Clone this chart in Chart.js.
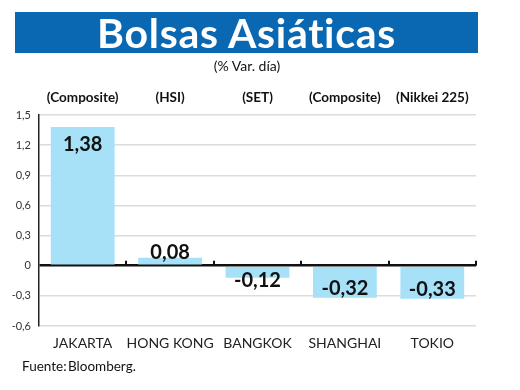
<!DOCTYPE html>
<html>
<head>
<meta charset="utf-8">
<script src="https://cdn.jsdelivr.net/npm/chart.js@4/dist/chart.umd.min.js"></script>
<style>
  body { margin: 0; background: #fff; }
  #wrap { position: relative; width: 520px; height: 390px; overflow: hidden; }
  #c { position: absolute; left: 0; top: 0; }
  .banner {
    position: absolute; left: 15px; top: 12px; width: 463px; height: 41px;
    background: #0a68b2; color: #fff; text-align: center;
    font: bold 41px Lato, sans-serif; line-height: 42px; letter-spacing: 0.7px;
  }
  .sub { position: absolute; left: 0; width: 494px; top: 57px; text-align: center; font: 14px Lato, sans-serif; color: #111; }
  .source { position: absolute; left: 22px; top: 358px; font: 13.5px Lato, sans-serif; color: #111; word-spacing: -2px; }
</style>
</head>
<body>
<div id="wrap">
  <canvas id="c" width="520" height="390"></canvas>
  <div class="banner">Bolsas Asiáticas</div>
  <div class="sub">(% Var. día)</div>
  <div class="source">Fuente: Bloomberg.</div>
</div>
<script>
// data
const markets = ['JAKARTA', 'HONG KONG', 'BANGKOK', 'SHANGHAI', 'TOKIO'];
const indexNames = ['(Composite)', '(HSI)', '(SET)', '(Composite)', '(Nikkei 225)'];
const dayChange = [1.38, 0.08, -0.12, -0.32, -0.33];
const yTickValues = [-0.6, -0.3, 0, 0.3, 0.6, 0.9, 1.2, 1.5];

const fmt = v => String(Math.round(v * 100) / 100).replace('.', ',');

// value labels over / inside the bars
const valueLabels = {
  id: 'valueLabels',
  afterDatasetsDraw(chart) {
    const ctx = chart.ctx;
    const meta = chart.getDatasetMeta(0);
    ctx.save();
    ctx.font = 'bold 20px Lato';
    ctx.fillStyle = '#111';
    ctx.textAlign = 'center';
    ctx.textBaseline = 'middle';
    meta.data.forEach((bar, i) => {
      const v = dayChange[i];
      const inside = Math.abs(v) > 0.25;
      let y;
      if (inside) y = bar.y + (v > 0 ? 17 : -9);
      else y = bar.y + (v > 0 ? -5 : 3);
      ctx.fillText(fmt(v), bar.x, y);
    });
    ctx.restore();
  }
};

// little tick marks on the zero line between categories
const zeroTicks = {
  id: 'zeroTicks',
  afterDraw(chart) {
    const x = chart.scales.x, y = chart.scales.y;
    const ctx = chart.ctx;
    const y0 = y.getPixelForValue(0);
    const step = x.getPixelForValue(1) - x.getPixelForValue(0);
    ctx.save();
    ctx.strokeStyle = '#111';
    ctx.lineWidth = 2;
    for (let i = 0; i < markets.length; i++) {
      const px = Math.round(x.getPixelForValue(i) + step / 2);
      ctx.beginPath();
      ctx.moveTo(px, y0);
      ctx.lineTo(px, y0 - 5);
      ctx.stroke();
    }
    ctx.restore();
  }
};

new Chart(document.getElementById('c'), {
  type: 'bar',
  data: {
    labels: markets,
    datasets: [{
      data: dayChange,
      backgroundColor: '#a6e1f8',
      borderWidth: 0,
      barPercentage: 0.73,
      categoryPercentage: 1
    }]
  },
  options: {
    responsive: false,
    animation: false,
    devicePixelRatio: 1,
    layout: { padding: { left: 0, right: 44, top: 0, bottom: 0 } },
    plugins: { legend: { display: false }, tooltip: { enabled: false } },
    scales: {
      x: {
        position: 'bottom',
        grid: { display: false },
        border: { display: false },
        ticks: { color: '#222', padding: 1, maxRotation: 0, minRotation: 0, autoSkip: false, font: { family: 'Lato', size: 14 } },
        afterFit: s => { s.height = 64; }
      },
      xTop: {
        type: 'category',
        position: 'top',
        labels: indexNames,
        offset: true,
        grid: { display: false },
        border: { display: false },
        ticks: { color: '#111', padding: 1, maxRotation: 0, minRotation: 0, autoSkip: false, font: { family: 'Lato', size: 13.5, weight: 'bold' } },
        afterFit: s => { s.height = 115; }
      },
      y: {
        min: -0.6,
        max: 1.5,
        afterBuildTicks: s => { s.ticks = yTickValues.map(v => ({ value: v })); },
        grid: {
          drawTicks: false,
          color: c => c.tick && c.tick.value === 0 ? '#111' : '#dcdcdc',
          lineWidth: c => c.tick && c.tick.value === 0 ? 2.5 : 1.5
        },
        border: { display: true, color: '#222', width: 1.5 },
        ticks: { color: '#333', padding: 8, font: { family: 'Lato', size: 11 }, callback: v => fmt(v) },
        afterFit: s => { s.width = 39; }
      }
    }
  },
  plugins: [valueLabels, zeroTicks]
});
</script>
</body>
</html>
